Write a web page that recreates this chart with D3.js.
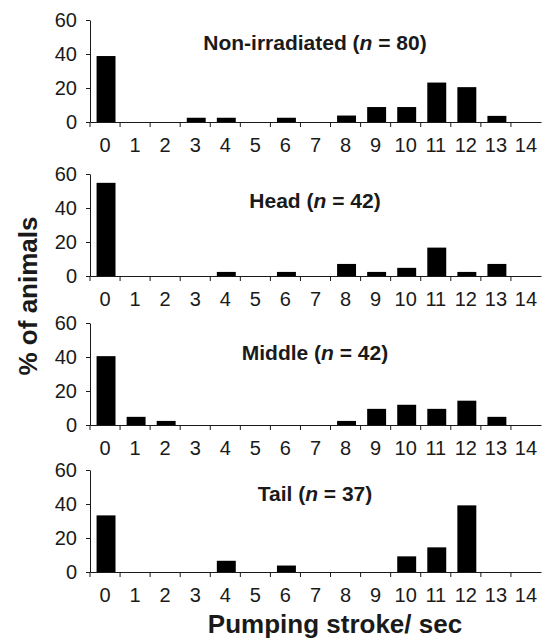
<!DOCTYPE html>
<html>
<head>
<meta charset="utf-8">
<script src="https://cdn.jsdelivr.net/npm/d3@7"></script>
<style>
  body { margin: 0; background: #fff; }
  svg { display: block; font-family: "Liberation Sans", Arial, sans-serif; }
</style>
</head>
<body>
<div id="chart"></div>
<script>
  // pumping strokes per second (x categories)
  var strokes = ['0', '1', '2', '3', '4', '5', '6', '7', '8', '9', '10', '11', '12', '13', '14'];
  var yTicks = [0, 20, 40, 60];

  // % of animals per group
  var nonIrradiated = [38.8, 0, 0, 2.5, 2.5, 0, 2.5, 0, 3.8, 8.8, 8.8, 23.2, 20.5, 3.6, 0];
  var head          = [54.8, 0, 0, 0, 2.4, 0, 2.4, 0, 7.1, 2.4, 4.8, 16.7, 2.4, 7.1, 0];
  var middle        = [40.5, 4.8, 2.4, 0, 0, 0, 0, 0, 2.4, 9.5, 11.9, 9.5, 14.3, 4.8, 0];
  var tail          = [33.3, 0, 0, 0, 6.6, 0, 3.8, 0, 0, 0, 9.2, 14.5, 39.2, 0, 0];

  var groupNames = ['Non-irradiated', 'Head', 'Middle', 'Tail'];
  var groupN = [80, 42, 42, 37];
  var groupValues = [nonIrradiated, head, middle, tail];

  var width = 546, height = 640;
  var left = 90, right = 541;
  var panelTops = [20, 174, 323, 470];
  var titleOffsets = [22, 26, 29, 23];
  var panelH = 102;
  var ink = '#1a1a1a';

  var svg = d3.select('#chart')
    .append('svg')
    .attr('width', width)
    .attr('height', height);

  // cells (for tick marks) and bars
  var xCell = d3.scaleBand().domain(strokes).range([left, right]).padding(0);
  var xBar = d3.scaleBand().domain(strokes).range([left, right])
    .paddingInner(0.37).paddingOuter(0.185);

  var y = d3.scaleLinear().domain([0, 60]).range([panelH, 0]);

  groupValues.forEach(function(vals, i) {
    var data = strokes.map(function(s, j) { return { k: s, v: vals[j] }; });
    var g = svg.append('g')
      .attr('transform', 'translate(0,' + panelTops[i] + ')');

    g.selectAll('.bar')
      .data(data)
      .enter().append('rect')
      .attr('class', 'bar')
      .attr('x', function(d) { return xBar(d.k) + 1; })
      .attr('width', xBar.bandwidth())
      .attr('y', function(d) { return y(d.v); })
      .attr('height', function(d) { return y(0) - y(d.v); })
      .attr('fill', '#000');

    // y axis
    var ya = g.append('g')
      .attr('transform', 'translate(' + left + ',0)')
      .call(d3.axisLeft(y).tickValues(yTicks).tickSize(4).tickSizeOuter(0).tickPadding(9));
    ya.selectAll('text').attr('font-size', 20).attr('fill', ink).attr('font-family', null);
    ya.selectAll('line, path').attr('stroke', ink);

    // x axis: labels centred on cells, ticks on cell edges
    var xa = g.append('g')
      .attr('transform', 'translate(0,' + panelH + ')')
      .call(d3.axisBottom(xCell).tickSize(0).tickSizeOuter(0).tickPadding(16));
    xa.selectAll('text').attr('font-size', 20).attr('fill', ink).attr('font-family', null);
    xa.select('.domain').attr('stroke', ink);

    xa.selectAll('.edge')
      .data(strokes)
      .enter().append('line')
      .attr('class', 'edge')
      .attr('x1', function(d) { return xCell(d); })
      .attr('x2', function(d) { return xCell(d); })
      .attr('y1', 0)
      .attr('y2', 5)
      .attr('stroke', ink);

    var t = g.append('text')
      .attr('x', 315)
      .attr('y', titleOffsets[i])
      .attr('text-anchor', 'middle')
      .attr('dominant-baseline', 'central')
      .attr('font-size', 21)
      .attr('font-weight', 'bold')
      .attr('fill', ink);
    t.append('tspan').text(groupNames[i] + ' (');
    t.append('tspan').attr('font-style', 'italic').text('n');
    t.append('tspan').text(' = ' + groupN[i] + ')');
  });

  svg.append('text')
    .attr('transform', 'translate(37,296) rotate(-90)')
    .attr('text-anchor', 'middle')
    .attr('font-size', 26)
    .attr('font-weight', 'bold')
    .attr('fill', ink)
    .text('% of animals');

  svg.append('text')
    .attr('x', 335)
    .attr('y', 633)
    .attr('text-anchor', 'middle')
    .attr('font-size', 26)
    .attr('font-weight', 'bold')
    .attr('fill', ink)
    .text('Pumping stroke/ sec');
</script>
</body>
</html>
